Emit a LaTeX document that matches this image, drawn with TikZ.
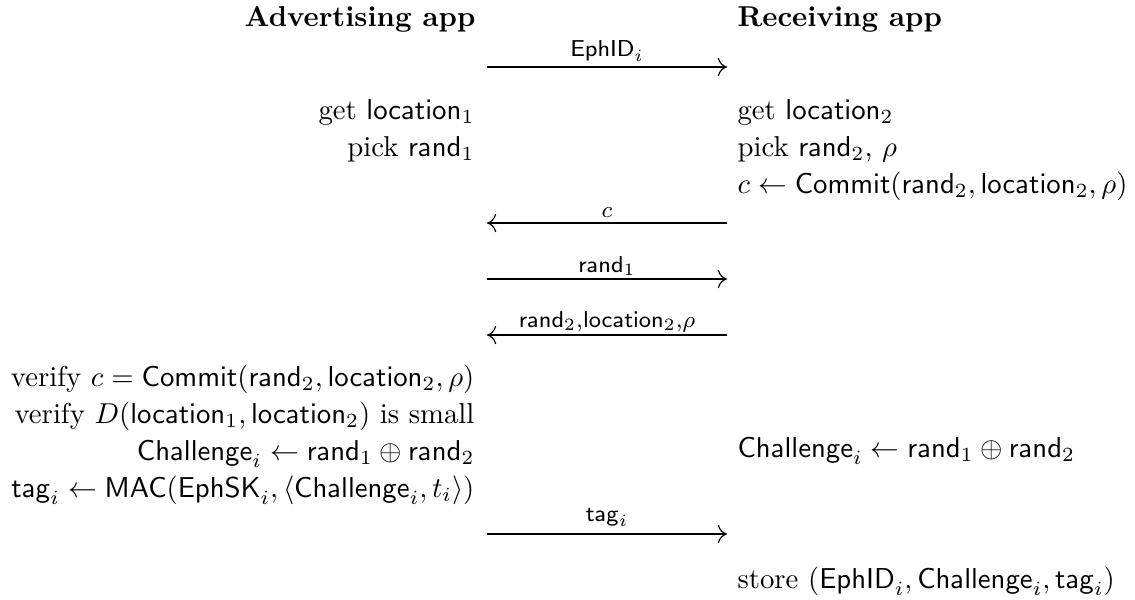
\documentclass[tikz,border=0pt]{standalone}
\usepackage{amsmath,amssymb}
\usetikzlibrary{arrows.meta}
\begin{document}
\begin{tikzpicture}[x=0.3478pt,y=-0.3478pt,
  lt/.style={anchor=base east, inner sep=0pt},
  rt/.style={anchor=base west, inner sep=0pt},
  hd/.style={font=\bfseries},
  lbl/.style={anchor=base, inner sep=0pt, font=\footnotesize},
  msg/.style={-{Computer Modern Rightarrow[length=3.2pt,width=6.4pt]}, line width=0.4pt}]
\useasboundingbox (0,0) rectangle (1135,599);
% headers
\node[lt,hd] (adv) at (476,27) {Advertising app};
\node[rt,hd] (rec) at (737,27) {Receiving app};
% message 1
\coordinate (m1l) at (487,67); \coordinate (m1r) at (727,67);
\draw[msg] (m1l) -- (m1r);
\node[lbl] (l1) at (607,56) {$\mathsf{EphID}_i$};
% local steps
\node[lt] (al1) at (475,119) {get $\mathsf{location}_1$};
\node[lt] (al2) at (475,156) {pick $\mathsf{rand}_1$};
\node[rt] (rl1) at (737,119) {get $\mathsf{location}_2$};
\node[rt] (rl2) at (737,156) {pick $\mathsf{rand}_2$, $\rho$};
\node[rt] (rl3) at (737,193) {$c \leftarrow \mathsf{Commit}(\mathsf{rand}_2, \mathsf{location}_2, \rho)$};
% message 2
\coordinate (m2l) at (487,223); \coordinate (m2r) at (727,223);
\draw[msg] (m2r) -- (m2l);
\node[lbl] (l2) at (607,217) {$c$};
% message 3
\coordinate (m3l) at (487,279); \coordinate (m3r) at (727,279);
\draw[msg] (m3l) -- (m3r);
\node[lbl] (l3) at (607,272) {$\mathsf{rand}_1$};
% message 4
\coordinate (m4l) at (487,335); \coordinate (m4r) at (727,335);
\draw[msg] (m4r) -- (m4l);
\node[lbl] (l4) at (607,327) {$\mathsf{rand}_2{,}\mathsf{location}_2{,}\rho$};
% verification
\node[lt] (av1) at (475,386) {verify $c = \mathsf{Commit}(\mathsf{rand}_2, \mathsf{location}_2, \rho)$};
\node[lt] (av2) at (475,423) {verify $D(\mathsf{location}_1, \mathsf{location}_2)$ is small};
\node[lt] (av3) at (475,460) {$\mathsf{Challenge}_i \leftarrow \mathsf{rand}_1 \oplus \mathsf{rand}_2$};
\node[lt] (av4) at (475,497) {$\mathsf{tag}_i \leftarrow \mathsf{MAC}(\mathsf{EphSK}_i, \langle \mathsf{Challenge}_i, t_i\rangle)$};
\node[rt] (rv3) at (737,457) {$\mathsf{Challenge}_i \leftarrow \mathsf{rand}_1 \oplus \mathsf{rand}_2$};
% message 5
\coordinate (m5l) at (487,534); \coordinate (m5r) at (727,534);
\draw[msg] (m5l) -- (m5r);
\node[lbl] (l5) at (607,521) {$\mathsf{tag}_i$};
% store
\node[rt] (rs) at (737,588) {store $(\mathsf{EphID}_i, \mathsf{Challenge}_i, \mathsf{tag}_i)$};
\end{tikzpicture}
\end{document}
